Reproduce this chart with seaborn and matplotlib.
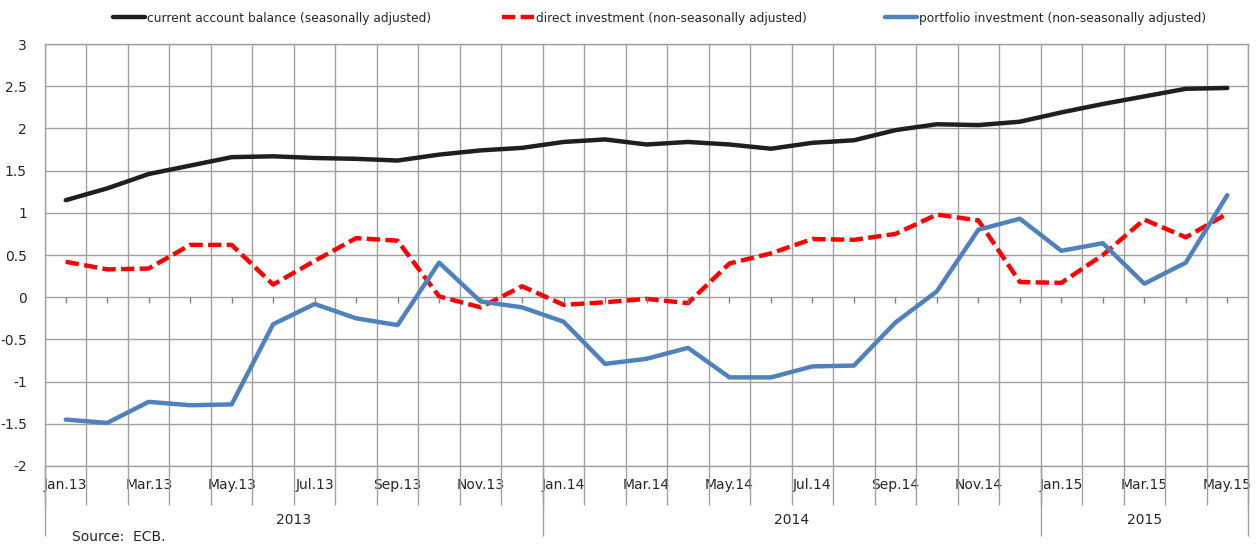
import numpy as np
import pandas as pd
import matplotlib
matplotlib.use('Agg')
import matplotlib.pyplot as plt
import matplotlib.transforms as mtransforms
from matplotlib.lines import TICKDOWN
import seaborn as sns

# monthly data, Jan.13 - May.15 (percentage of GDP, 12-month sums)
months = ['Jan.13', 'Feb.13', 'Mar.13', 'Apr.13', 'May.13', 'Jun.13', 'Jul.13', 'Aug.13',
          'Sep.13', 'Oct.13', 'Nov.13', 'Dec.13', 'Jan.14', 'Feb.14', 'Mar.14', 'Apr.14',
          'May.14', 'Jun.14', 'Jul.14', 'Aug.14', 'Sep.14', 'Oct.14', 'Nov.14', 'Dec.14',
          'Jan.15', 'Feb.15', 'Mar.15', 'Apr.15', 'May.15']
current_account = [1.15, 1.29, 1.46, 1.56, 1.66, 1.67, 1.65, 1.64, 1.62, 1.69, 1.74, 1.77,
                   1.84, 1.87, 1.81, 1.84, 1.81, 1.76, 1.83, 1.86, 1.98, 2.05, 2.04, 2.08,
                   2.19, 2.29, 2.38, 2.47, 2.48]
direct_inv = [0.42, 0.33, 0.34, 0.62, 0.62, 0.15, 0.43, 0.70, 0.67, 0.01, -0.12, 0.13,
              -0.09, -0.06, -0.02, -0.07, 0.40, 0.52, 0.69, 0.68, 0.75, 0.98, 0.91, 0.18,
              0.17, 0.50, 0.92, 0.71, 0.99]
portfolio_inv = [-1.45, -1.49, -1.24, -1.28, -1.27, -0.32, -0.08, -0.25, -0.33, 0.41, -0.05, -0.12,
                 -0.29, -0.79, -0.73, -0.60, -0.95, -0.95, -0.82, -0.81, -0.30, 0.07, 0.80, 0.93,
                 0.55, 0.64, 0.16, 0.41, 1.21]
years = ['2013', '2014', '2015']
months_per_year = [12, 12, 5]
yticks = [-2, -1.5, -1, -0.5, 0, 0.5, 1, 1.5, 2, 2.5, 3]
names = ['current account balance (seasonally adjusted)',
         'direct investment (non-seasonally adjusted)',
         'portfolio investment (non-seasonally adjusted)']

sns.set_style('white')
plt.rcParams['font.family'] = ['DejaVu Sans Condensed', 'Liberation Sans Narrow', 'DejaVu Sans']

df = pd.DataFrame({'idx': np.arange(len(months)), 'month': months,
                   names[0]: current_account, names[1]: direct_inv, names[2]: portfolio_inv})

fig = plt.figure(figsize=(12.6, 5.51), dpi=100)
ax = fig.add_axes([0.0357, 0.1543, 0.9548, 0.7657])

styles = [('#1f1f1f', None), ('#ff0000', (3, 1.2)), ('#4f81bd', None)]
for name, (col, dash) in zip(names, styles):
    g = sns.lineplot(data=df, x='idx', y=name, ax=ax, color=col, lw=3.2, label=name)
    if dash is not None:
        g.lines[-1].set_dashes(dash)

n = len(months)
ax.set_xlim(-0.5, n - 0.5)
ax.set_ylim(-2, 3)
ax.set_yticks(yticks)
ax.set_yticklabels(['%g' % v for v in yticks], fontsize=10)
ax.set_xticks(np.arange(0, n, 2))
ax.set_xticklabels(months[::2], fontsize=10)
ax.set_xticks(np.arange(n + 1) - 0.5, minor=True)
ax.tick_params(axis='both', which='both', length=0)
ax.tick_params(axis='y', pad=13)
ax.tick_params(axis='x', pad=9)
ax.set_xlabel('')
ax.set_ylabel('')
ax.grid(True, which='major', axis='y', color='#a0a0a0', lw=1)
ax.grid(True, which='minor', axis='x', color='#a0a0a0', lw=1)
ax.set_axisbelow(True)
for s in ax.spines.values():
    s.set_color('#a0a0a0')
    s.set_linewidth(1)

# small ticks on the zero line
ax.plot(df['idx'], np.zeros(n), ls='none', marker=TICKDOWN, ms=4, color='#808080', mew=1)

# category separators below the axis and year labels
trans = mtransforms.blended_transform_factory(ax.transData, ax.transAxes)
ax.vlines(np.arange(n + 1) - 0.5, -0.0925, 0, transform=trans, color='#a0a0a0', lw=1, clip_on=False)
bounds = np.concatenate([[0], np.cumsum(months_per_year)]) - 0.5
ax.vlines(bounds, -0.165, 0, transform=trans, color='#a0a0a0', lw=1, clip_on=False)
for i, yr in enumerate(years):
    ax.text((bounds[i] + bounds[i + 1]) / 2, -0.128, yr, transform=trans,
            ha='center', va='center', fontsize=10)

fig.text(0.057, 0.012, 'Source:  ECB.', fontsize=10, ha='left', va='bottom')

# legend entries spread along the top
ax.get_legend().remove()
handles, labels = ax.get_legend_handles_labels()
for h, lab, x0 in zip(handles[:3], labels[:3], [0.0897, 0.3984, 0.7024]):
    fig.legend([h], [lab], loc='center left', bbox_to_anchor=(x0, 0.967), frameon=False,
               fontsize=8.8, handlelength=2.6, handletextpad=0.15, borderpad=0, borderaxespad=0)

fig.savefig('out.png', dpi=100)
